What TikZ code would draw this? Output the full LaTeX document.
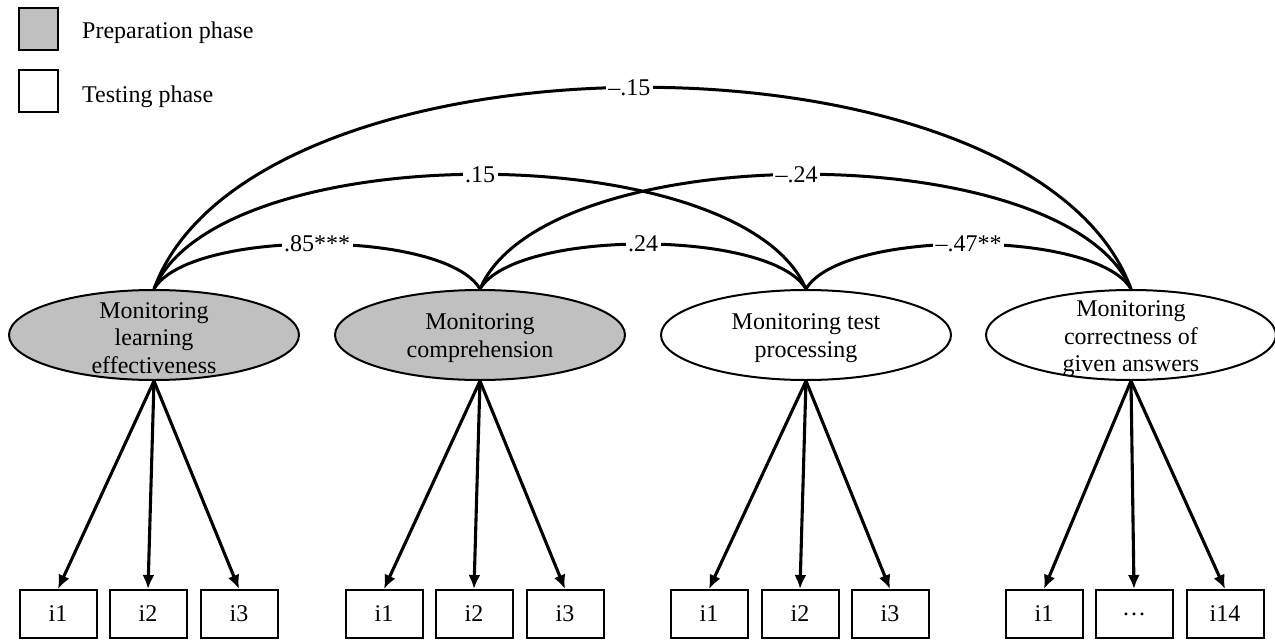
\documentclass[tikz,border=0pt]{standalone}
\usepackage{fontspec}
\setmainfont{Liberation Serif}
\usetikzlibrary{shapes.geometric,arrows.meta}
\definecolor{latgray}{RGB}{192,192,192}
\begin{document}
\begin{tikzpicture}[x=1pt,y=-1pt,
  every node/.style={font=\fontsize{24}{27.5}\selectfont},
  latent/.style={draw,line width=2pt,ellipse,minimum width=290pt,minimum height=90pt,inner sep=0pt},
  prep/.style={latent,fill=latgray},
  test/.style={latent,fill=white},
  lbl/.style={align=center,inner sep=0pt},
  item/.style={draw,line width=2pt,minimum width=77pt,minimum height=48pt,inner sep=0pt},
  load/.style={line width=3.1pt,-{Latex[length=14pt,width=12pt]}},
  corr/.style={line width=3pt},
  clab/.style={fill=white,inner sep=2.5pt},
  legbox/.style={draw,line width=2pt,minimum width=39pt,minimum height=42pt,inner sep=0pt}
]
\useasboundingbox (0,0) rectangle (1275,640);

% legend
\node[legbox,fill=latgray] (lg1) at (38.5,29) {};
\node[legbox,fill=white] (lg2) at (38.5,91) {};
\node[anchor=west,inner sep=0pt] (lt1) at (82,33) {Preparation phase};
\node[anchor=west,inner sep=0pt] (lt2) at (82,97) {Testing phase};

% latent variables
\node[prep] (e1) at (154,335) {};
\node[prep] (e2) at (480,335) {};
\node[test] (e3) at (806,335) {};
\node[test] (e4) at (1131,335) {};
\node[lbl] (t1) at (154,338) {Monitoring\\learning\\effectiveness};
\node[lbl] (t2) at (480,338) {Monitoring\\comprehension};
\node[lbl] (t3) at (806,338) {Monitoring test\\processing};
\node[lbl] (t4) at (1131,339) {Monitoring\\correctness of\\given answers};

% items
\node[item] (a1) at (58,614) {i1};
\node[item] (a2) at (148,614) {i2};
\node[item] (a3) at (239,614) {i3};
\node[item] (b1) at (384,614) {i1};
\node[item] (b2) at (474,614) {i2};
\node[item] (b3) at (565,614) {i3};
\node[item] (c1) at (709,614) {i1};
\node[item] (c2) at (800,614) {i2};
\node[item] (c3) at (890,614) {i3};
\node[item] (d1) at (1044,614) {i1};
\node[item] (d2) at (1134,614) {\dots};
\node[item] (d3) at (1225,614) {i14};

% loadings
\foreach \e/\p in {e1/a,e2/b,e3/c,e4/d}{
  \foreach \i in {1,2,3}{
    \draw[load] (\e.south) -- (\p\i.north);
  }
}

% correlations
\draw[corr] (e1.north) .. controls +(35,-60) and +(-35,-60) .. node[clab,pos=0.5] {.85***} (e2.north);
\draw[corr] (e2.north) .. controls +(35,-60) and +(-35,-60) .. node[clab,pos=0.5] {.24} (e3.north);
\draw[corr] (e3.north) .. controls +(35,-60) and +(-35,-60) .. node[clab,pos=0.5] {–.47**} (e4.north);
\draw[corr] (e1.north) .. controls +(65,-153) and +(-65,-153) .. node[clab,pos=0.5] {.15} (e3.north);
\draw[corr] (e2.north) .. controls +(65,-153) and +(-65,-153) .. node[clab,pos=0.49] {–.24} (e4.north);
\draw[corr] (e1.north) .. controls +(98,-269) and +(-98,-269) .. node[clab,pos=0.49] {–.15} (e4.north);
\end{tikzpicture}
\end{document}
